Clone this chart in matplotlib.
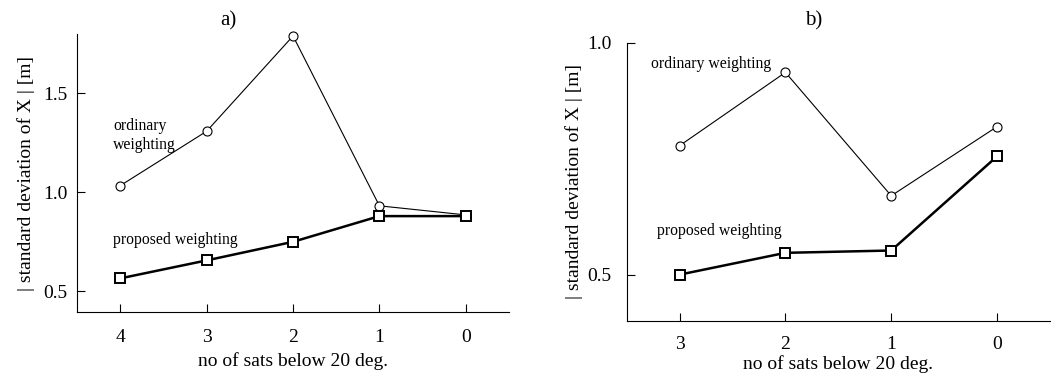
import matplotlib
matplotlib.use('Agg')
import matplotlib.pyplot as plt

# panel a) data
sats_a = [4, 3, 2, 1, 0]
ordinary_a = [1.033, 1.308, 1.79, 0.931, 0.885]
proposed_a = [0.564, 0.655, 0.749, 0.879, 0.879]

# panel b) data
sats_b = [3, 2, 1, 0]
ordinary_b = [0.778, 0.936, 0.670, 0.819]
proposed_b = [0.500, 0.547, 0.552, 0.755]

plt.rcParams['font.family'] = ['Liberation Serif', 'DejaVu Serif']
plt.rcParams['font.size'] = 14


def style_axes(ax, xpad, ypad):
    ax.spines['top'].set_visible(False)
    ax.spines['right'].set_visible(False)
    ax.tick_params(direction='in', length=6, width=0.8, labelsize=14)
    ax.tick_params(axis='x', pad=xpad)
    ax.tick_params(axis='y', pad=ypad)


def main():
    fig = plt.figure(figsize=(10.51, 3.77), dpi=100)

    # a)
    ax1 = fig.add_axes([0.0733, 0.1724, 0.411, 0.7374])
    ax1.plot(sats_a, ordinary_a, color='black', lw=0.8, marker='o', ms=6.5,
             mfc='white', mew=0.8, clip_on=False)
    ax1.plot(sats_a, proposed_a, color='black', lw=1.8, marker='s', ms=6.5,
             mfc='white', mew=1.4, clip_on=False)
    ax1.set_xlim(4.5, -0.5)
    ax1.set_ylim(0.394, 1.80)
    ax1.set_xticks(sats_a)
    ax1.set_yticks([0.5, 1.0, 1.5])
    ax1.set_yticklabels(['0.5', '1.0', '1.5'])
    ax1.set_xlabel('no of sats below 20 deg.', labelpad=5)
    ax1.set_ylabel('| standard deviation of X | [m]', labelpad=6)
    style_axes(ax1, 12, 7)
    ax1.text(0.083, 0.635, 'ordinary\nweighting', transform=ax1.transAxes,
             fontsize=11.3, va='center', ha='left', linespacing=1.2)
    ax1.text(0.083, 0.26, 'proposed weighting', transform=ax1.transAxes,
             fontsize=11.3, va='center', ha='left')
    fig.text(0.217, 0.945, 'a)', ha='center', va='center', fontsize=15)

    # b)
    ax2 = fig.add_axes([0.5963, 0.1485, 0.4027, 0.7382])
    ax2.plot(sats_b, ordinary_b, color='black', lw=0.8, marker='o', ms=6.5,
             mfc='white', mew=0.8, clip_on=False)
    ax2.plot(sats_b, proposed_b, color='black', lw=1.8, marker='s', ms=6.5,
             mfc='white', mew=1.4, clip_on=False)
    ax2.set_xlim(3.5, -0.5)
    ax2.set_ylim(0.40, 1.0)
    ax2.set_xticks(sats_b)
    ax2.set_yticks([0.5, 1.0])
    ax2.set_yticklabels(['0.5', '1.0'])
    ax2.set_xlabel('no of sats below 20 deg.', labelpad=1)
    ax2.set_ylabel('| standard deviation of X | [m]', labelpad=3)
    style_axes(ax2, 11, 11)
    ax2.text(0.057, 0.925, 'ordinary weighting', transform=ax2.transAxes,
             fontsize=11.3, va='center', ha='left')
    ax2.text(0.071, 0.325, 'proposed weighting', transform=ax2.transAxes,
             fontsize=11.3, va='center', ha='left')
    fig.text(0.774, 0.945, 'b)', ha='center', va='center', fontsize=15)

    fig.savefig('out.png', dpi=100)


if __name__ == '__main__':
    main()
